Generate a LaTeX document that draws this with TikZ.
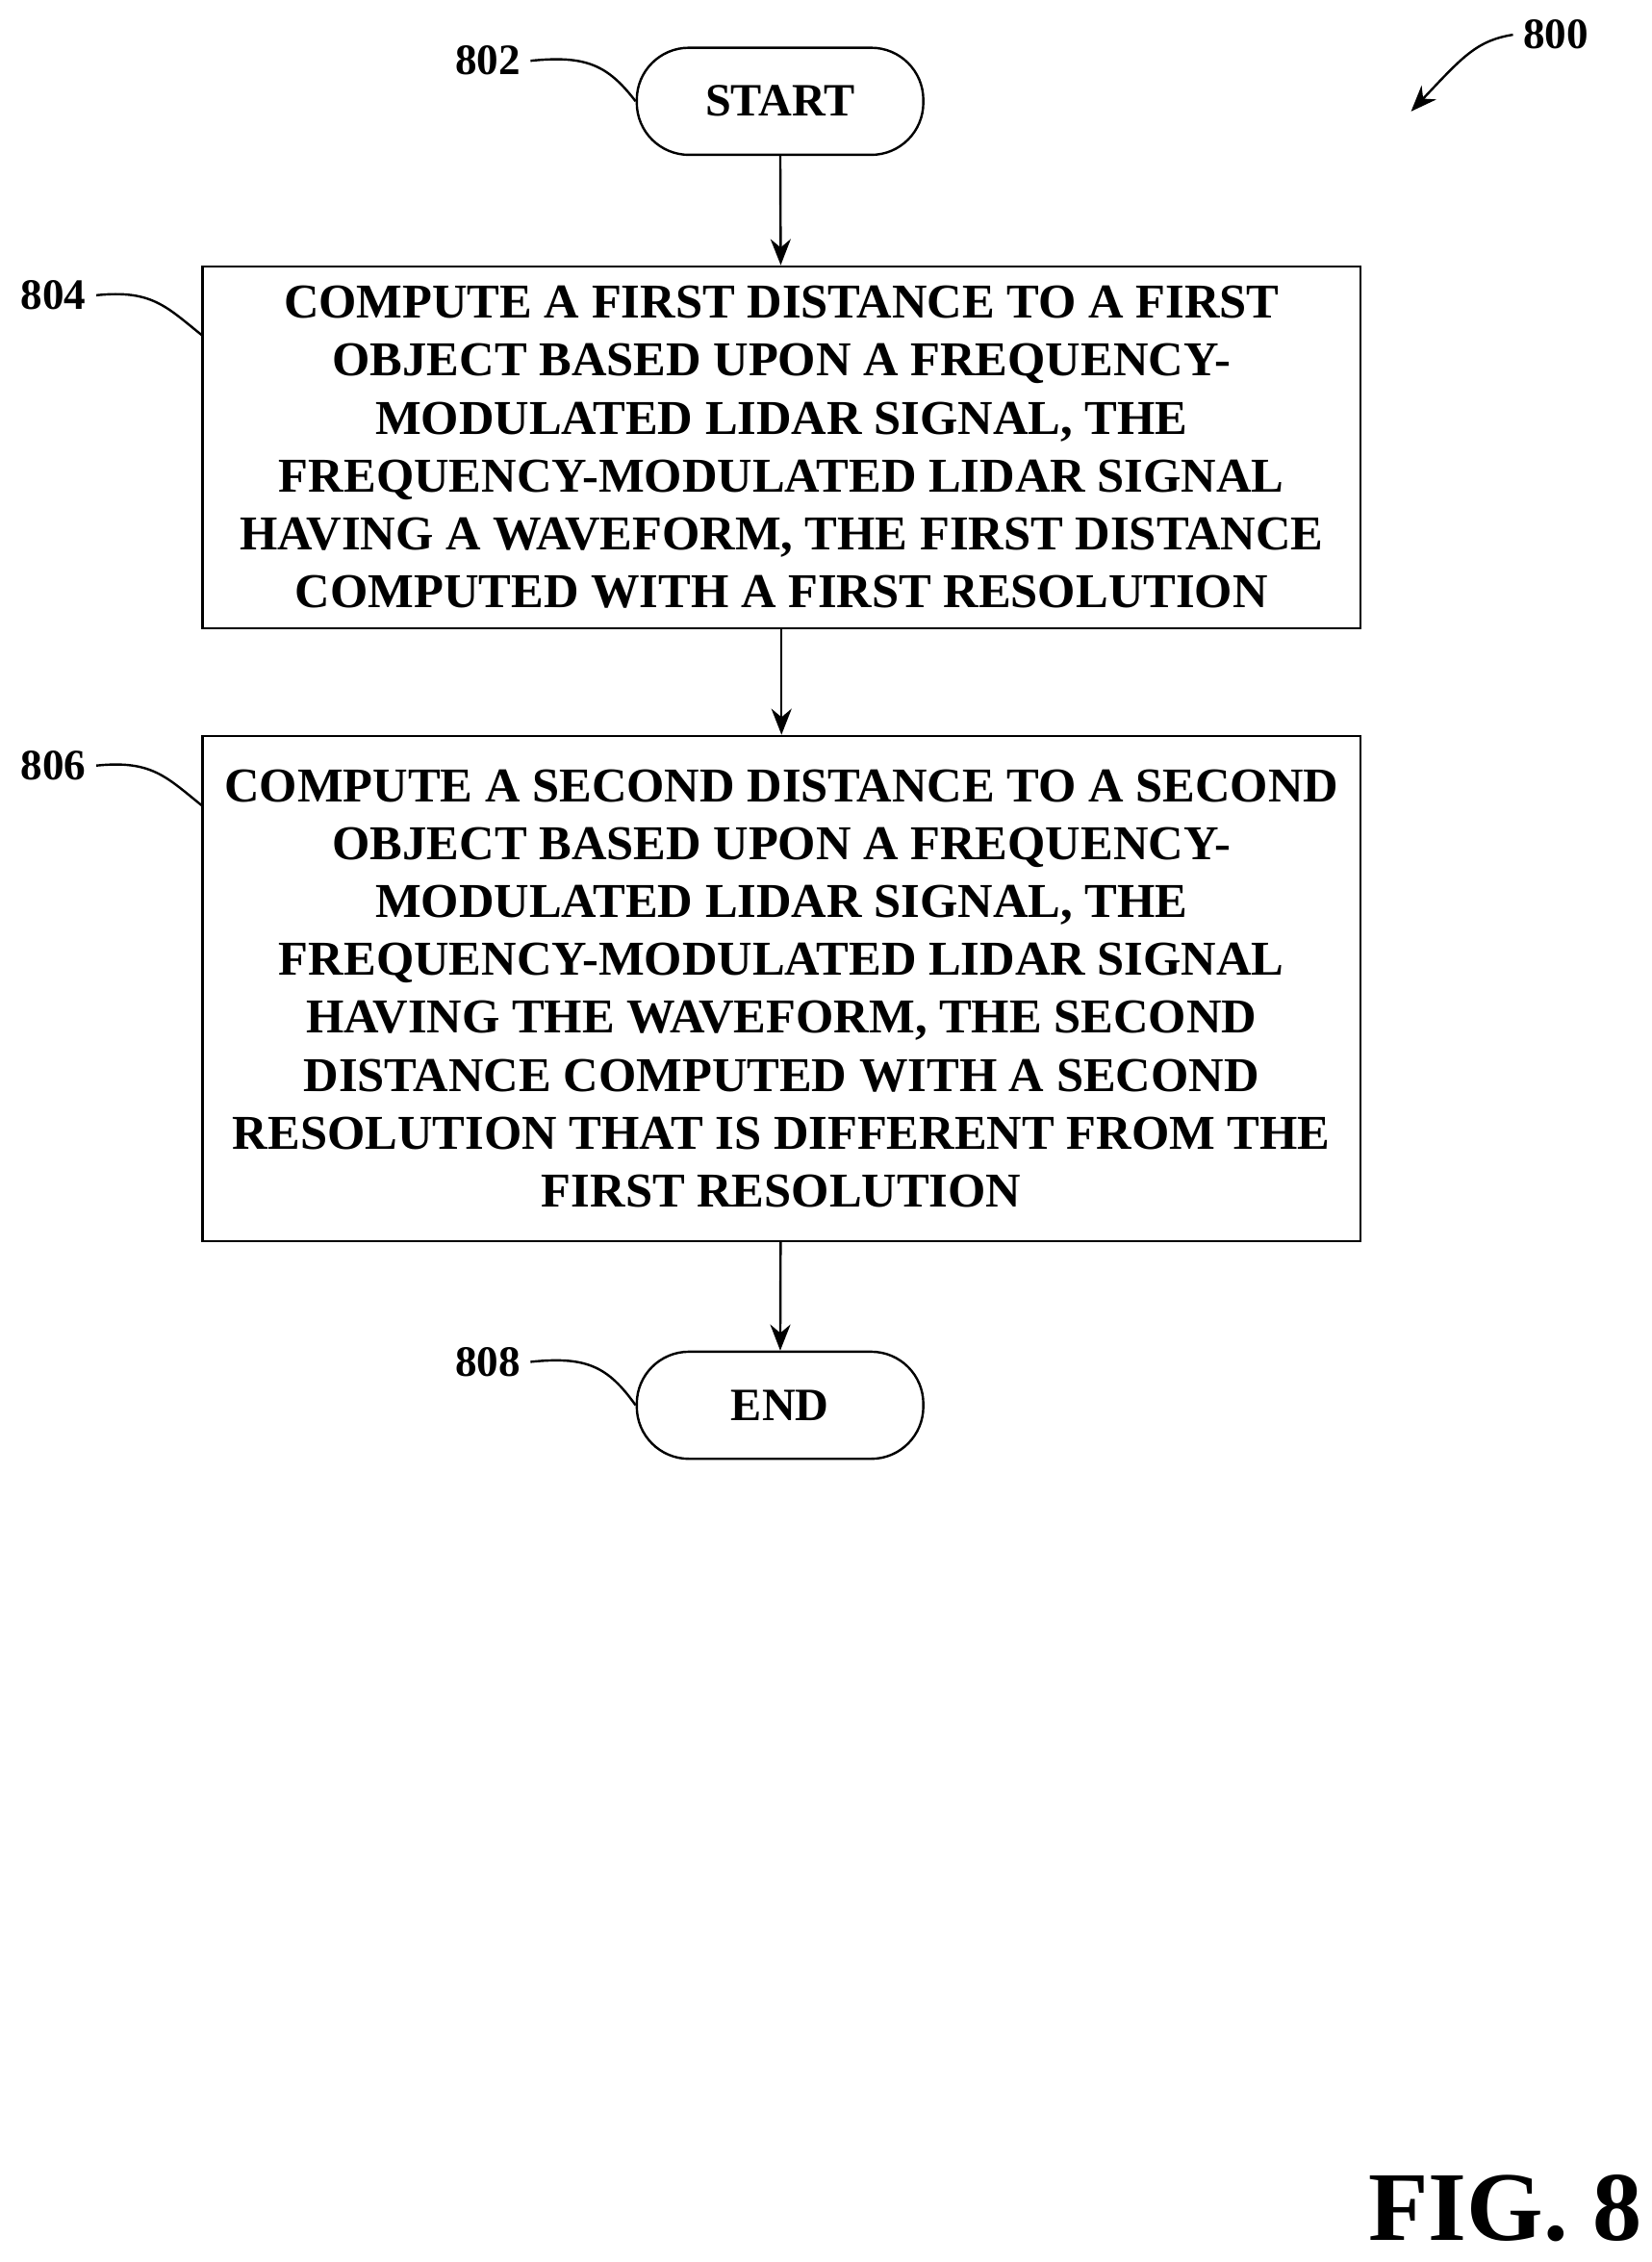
\documentclass[tikz,border=0pt]{standalone}
\usepackage{fontspec}
\setmainfont{Liberation Serif}
\usetikzlibrary{arrows.meta,positioning}
\tikzset{
  process/.style={draw,thick,minimum width=400pt,align=center,font=\fontsize{16.8}{20}\selectfont\bfseries,inner sep=0pt},
  term/.style={draw,thick,rounded corners=18pt,minimum width=99pt,minimum height=37pt,font=\fontsize{16}{18}\selectfont\bfseries},
  ref/.style={font=\fontsize{15}{18}\selectfont\bfseries},
  flow/.style={thick,-{Stealth[length=9pt,width=7pt]}},
  lead/.style={thick}
}
\begin{document}
\begin{tikzpicture}[x=0.5pt,y=-0.5pt]
  \useasboundingbox (0,0) rectangle (1141,1563);
  % terminals and steps
  \node[term] (start) at (539,70) {START};
  \node[process,minimum height=125pt] (s804) at (540,309) {COMPUTE A FIRST DISTANCE TO A FIRST\\OBJECT BASED UPON A FREQUENCY-\\MODULATED LIDAR SIGNAL, THE\\FREQUENCY-MODULATED LIDAR SIGNAL\\HAVING A WAVEFORM, THE FIRST DISTANCE\\COMPUTED WITH A FIRST RESOLUTION};
  \node[process,minimum height=174.5pt] (s806) at (540,683) {COMPUTE A SECOND DISTANCE TO A SECOND\\OBJECT BASED UPON A FREQUENCY-\\MODULATED LIDAR SIGNAL, THE\\FREQUENCY-MODULATED LIDAR SIGNAL\\HAVING THE WAVEFORM, THE SECOND\\DISTANCE COMPUTED WITH A SECOND\\RESOLUTION THAT IS DIFFERENT FROM THE\\FIRST RESOLUTION};
  \node[term] (end) at (539,971) {END};
  \draw[flow] (start) -- (s804);
  \draw[flow] (s804) -- (s806);
  \draw[flow] (s806) -- (end);
  % reference numerals
  \node[ref] (r802) at (337,42) {802};
  \node[ref] (r804) at (37,204) {804};
  \node[ref] (r806) at (37,529) {806};
  \node[ref] (r808) at (337,941) {808};
  \node[ref] (r800) at (1075,24) {800};
  \coordinate (t804) at (140,232);
  \coordinate (t806) at (140,557);
  \draw[lead] (r802.east) .. controls (405,38) and (420,45) .. (start.west);
  \draw[lead] (r804.east) .. controls (105,200) and (115,212) .. (t804);
  \draw[lead] (r806.east) .. controls (105,525) and (115,537) .. (t806);
  \draw[lead] (r808.east) .. controls (405,937) and (420,944) .. (end.west);
  \coordinate (a800) at (975,77);
  \draw[flow] (r800.west) .. controls (1020,28) and (1010,40) .. (a800);
  \node[font=\fontsize{34}{40}\selectfont\bfseries] (fig) at (1040,1526) {FIG. 8};
\end{tikzpicture}
\end{document}
